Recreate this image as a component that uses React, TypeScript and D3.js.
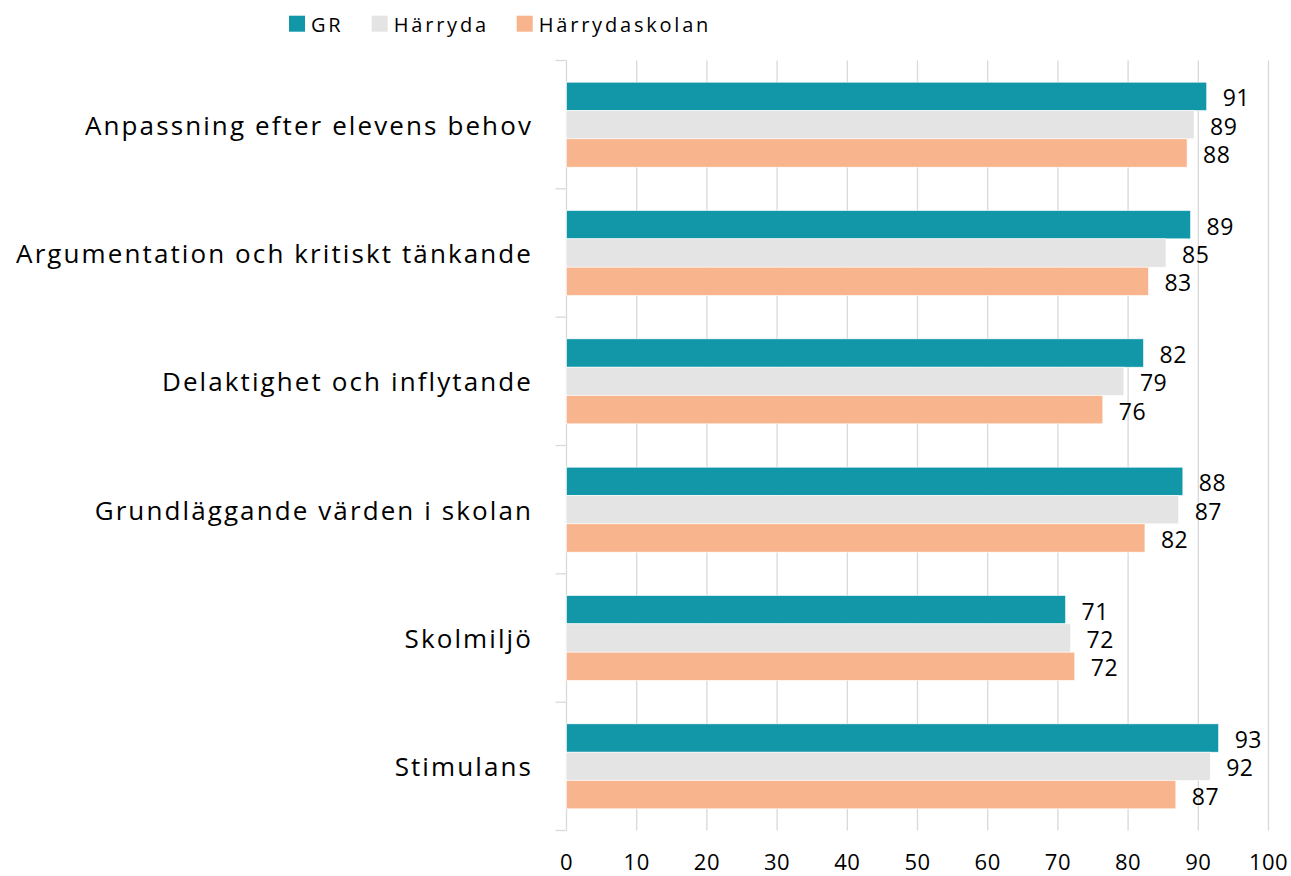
import React, { useEffect, useRef } from "react";
import * as d3 from "d3";

const categories = [
  "Anpassning efter elevens behov",
  "Argumentation och kritiskt tänkande",
  "Delaktighet och inflytande",
  "Grundläggande värden i skolan",
  "Skolmiljö",
  "Stimulans",
];
const seriesNames = ["GR", "Härryda", "Härrydaskolan"];
const grValues = [91.2, 88.9, 82.2, 87.8, 71.1, 92.9];
const harrydaValues = [89.4, 85.4, 79.4, 87.2, 71.8, 91.7];
const skolanValues = [88.4, 82.9, 76.4, 82.4, 72.4, 86.8];
const xTicks = [0, 10, 20, 30, 40, 50, 60, 70, 80, 90, 100];

const colors = ["#1297a9", "#e4e4e4", "#f8b48c"];
const font = "'Open Sans', sans-serif";

export default function App() {
  const svgRef = useRef<SVGSVGElement>(null);

  useEffect(() => {
    const svg = d3.select(svgRef.current);
    svg.selectAll("*").remove();

    const width = 1291, height = 876;
    const left = 566.5, right = 1268.5, top = 60.5, bottom = 830.5;

    const x = d3.scaleLinear().domain([0, 100]).range([left, right]);
    const y = d3.scaleBand<string>()
      .domain(categories)
      .range([top, bottom])
      .paddingInner(0.338)
      .paddingOuter(0.169);
    const y1 = d3.scaleBand<string>().domain(seriesNames).range([0, y.bandwidth()]);

    svg.attr("width", width).attr("height", height);

    // gridlines
    svg.append("g")
      .selectAll("line")
      .data(xTicks.filter(t => t > 0))
      .join("line")
      .attr("x1", d => x(d)).attr("x2", d => x(d))
      .attr("y1", top).attr("y2", bottom)
      .attr("stroke", "#d9d9d9").attr("stroke-width", 1.3);

    // left axis with ticks between categories
    const step = y.step();
    const axis = svg.append("g");
    axis.append("line")
      .attr("x1", left).attr("x2", left)
      .attr("y1", top).attr("y2", bottom)
      .attr("stroke", "#d9d9d9").attr("stroke-width", 1.3);
    axis.selectAll("line.tick")
      .data(d3.range(categories.length + 1))
      .join("line")
      .attr("class", "tick")
      .attr("x1", left - 11).attr("x2", left)
      .attr("y1", i => top + i * step).attr("y2", i => top + i * step)
      .attr("stroke", "#d9d9d9").attr("stroke-width", 1.3);

    const data = categories.map((c, i) => ({
      category: c,
      values: [grValues[i], harrydaValues[i], skolanValues[i]],
    }));

    const groups = svg.append("g")
      .selectAll("g")
      .data(data)
      .join("g")
      .attr("transform", d => `translate(0,${y(d.category)})`);

    groups.selectAll("rect")
      .data(d => d.values.map((v, j) => ({ v, s: seriesNames[j], j })))
      .join("rect")
      .attr("x", x(0))
      .attr("y", d => y1(d.s)!)
      .attr("width", d => x(d.v) - x(0))
      .attr("height", y1.bandwidth())
      .attr("fill", d => colors[d.j])
      .attr("stroke", "#ffffff")
      .attr("stroke-width", 0.6);

    groups.selectAll("text")
      .data(d => d.values.map((v, j) => ({ v, s: seriesNames[j] })))
      .join("text")
      .attr("x", d => x(d.v) + 16)
      .attr("y", d => y1(d.s)! + y1.bandwidth() / 2 + 1)
      .attr("dominant-baseline", "central")
      .style("font-family", font)
      .style("font-size", "23px")
      .style("letter-spacing", "0.5px")
      .attr("fill", "#000")
      .text(d => d3.format(".0f")(d.v));

    // category labels
    svg.append("g")
      .selectAll("text")
      .data(categories)
      .join("text")
      .attr("x", 533)
      .attr("y", d => y(d)! + y.bandwidth() / 2)
      .attr("text-anchor", "end")
      .attr("dominant-baseline", "central")
      .style("font-family", font)
      .style("font-size", "26px")
      .style("letter-spacing", "2.1px")
      .attr("fill", "#000")
      .text(d => d);

    // x tick labels
    svg.append("g")
      .selectAll("text")
      .data(xTicks)
      .join("text")
      .attr("x", d => x(d))
      .attr("y", 870)
      .attr("text-anchor", "middle")
      .style("font-family", font)
      .style("font-size", "22px")
      .style("letter-spacing", "0.5px")
      .attr("fill", "#000")
      .text(d => d);

    // legend
    const legendX = [289, 371.7, 516.7];
    const legend = svg.append("g")
      .selectAll("g")
      .data(seriesNames)
      .join("g")
      .attr("transform", (d, i) => `translate(${legendX[i]},15.7)`);
    legend.append("rect")
      .attr("width", 16).attr("height", 16)
      .attr("fill", (d, i) => colors[i]);
    legend.append("text")
      .attr("x", 22)
      .attr("y", 8.5)
      .attr("dominant-baseline", "central")
      .style("font-family", font)
      .style("font-size", "20px")
      .style("letter-spacing", "2.8px")
      .attr("fill", "#000")
      .text(d => d);
  }, []);

  return <svg ref={svgRef} style={{ display: "block", position: "absolute", left: 0, top: 0 }}></svg>;
}
